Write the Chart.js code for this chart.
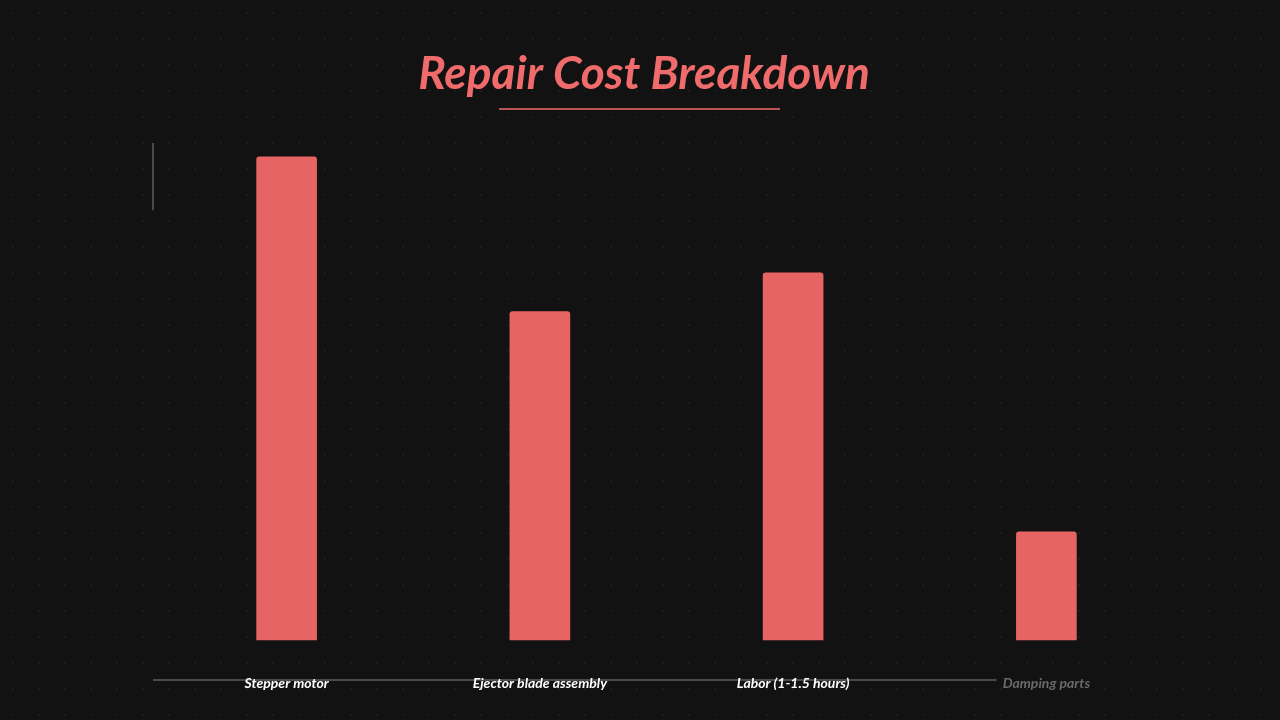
<!DOCTYPE html>
<html>
<head>
<meta charset="utf-8">
<script src="https://cdn.jsdelivr.net/npm/chart.js@4/dist/chart.umd.min.js"></script>
<style>
  html, body { margin: 0; padding: 0; background: #121212; }
  body {
    width: 1280px; height: 720px; overflow: hidden;
    background-color: #121212;
    background-image: radial-gradient(circle, rgba(255,255,255,0.045) 1px, transparent 1.2px);
    background-size: 26px 26px;
  }
  #wrap { position: relative; width: 1280px; height: 720px; }
</style>
</head>
<body>
<div id="wrap"><canvas id="c" width="1280" height="720"></canvas></div>
<script>
const categories = ['Stepper motor', 'Ejector blade assembly', 'Labor (1-1.5 hours)', 'Damping parts'];
const costs = [125, 85, 95, 28];
const labelColors = ['#ffffff', '#ffffff', '#ffffff', '#6a6a6a'];
const titleText = 'Repair Cost Breakdown';

const accent = '#f06b6b';
const barColor = '#e76464';

const decor = {
  id: 'decor',
  afterDraw(chart) {
    const ctx = chart.ctx;
    const a = chart.chartArea;
    const cx = chart.width / 2;
    ctx.save();
    // title
    ctx.fillStyle = accent;
    ctx.font = 'italic bold 46px Lato';
    ctx.textAlign = 'center';
    ctx.textBaseline = 'middle';
    ctx.fillText(titleText, cx + 4, 74);
    // partial axes lines
    ctx.strokeStyle = '#5e5e5e';
    ctx.lineWidth = 1.5;
    const x0 = a.left - 7;
    ctx.beginPath();
    ctx.moveTo(x0, a.bottom);
    ctx.lineTo(x0 + (a.right - x0) * 0.827, a.bottom);
    ctx.stroke();
    ctx.beginPath();
    ctx.moveTo(x0, a.top);
    ctx.lineTo(x0, a.top + (a.bottom - a.top) * 0.125);
    ctx.stroke();
    // title underline
    ctx.strokeStyle = accent;
    ctx.lineWidth = 1.5;
    ctx.beginPath();
    ctx.moveTo(cx - 141, 109);
    ctx.lineTo(cx + 140, 109);
    ctx.stroke();
    ctx.restore();
    // tick labels sitting on the axis line
    const xs = chart.scales.x;
    ctx.save();
    ctx.font = 'italic bold 14px Lato';
    ctx.textAlign = 'center';
    ctx.textBaseline = 'middle';
    categories.forEach((c, i) => {
      ctx.fillStyle = labelColors[i];
      ctx.fillText(c, xs.getPixelForValue(i), a.bottom + 3);
    });
    ctx.restore();
  }
};

new Chart(document.getElementById('c'), {
  type: 'bar',
  data: {
    labels: categories,
    datasets: [{
      data: costs,
      backgroundColor: barColor,
      borderRadius: 3,
      borderSkipped: 'bottom',
      barThickness: 60
    }]
  },
  options: {
    responsive: false,
    animation: false,
    devicePixelRatio: 1,
    layout: { padding: { left: 160, right: 107, top: 143, bottom: 40 } },
    plugins: {
      legend: { display: false },
      tooltip: { enabled: false },
      title: { display: false }
    },
    scales: {
      x: {
        display: true,
        grid: { display: false, drawTicks: false },
        border: { display: false },
        ticks: { display: false }
      },
      y: {
        display: false,
        min: -10.35,
        max: 128.6
      }
    }
  },
  plugins: [decor]
});
</script>
</body>
</html>
